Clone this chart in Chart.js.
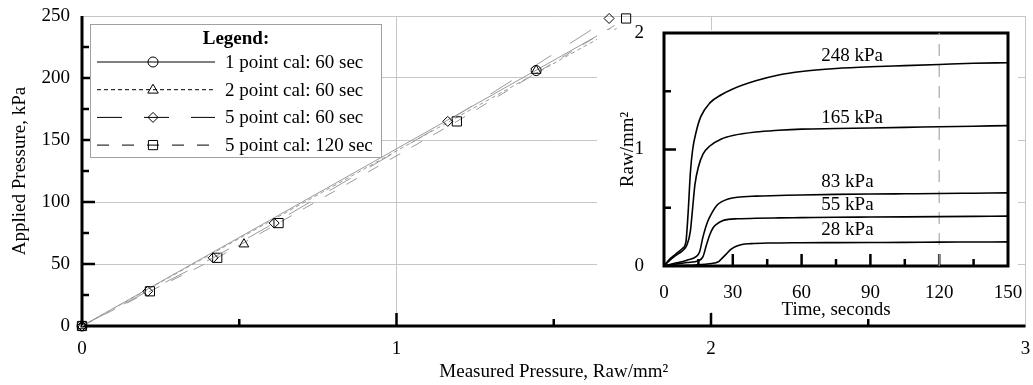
<!DOCTYPE html>
<html>
<head>
<meta charset="utf-8">
<script src="https://cdn.jsdelivr.net/npm/chart.js@4.4.0/dist/chart.umd.min.js"></script>
<style>
  html, body { margin: 0; padding: 0; background: #fff; }
  #wrap { position: relative; width: 1033px; height: 385px; overflow: hidden; }
  #mainChart { position: absolute; left: 0; top: 0; }
  #insetChart { position: absolute; left: 597px; top: 22px; }
</style>
</head>
<body>
<div id="wrap">
  <canvas id="mainChart" width="1033" height="385" style="width:1033px;height:385px"></canvas>
  <canvas id="insetChart" width="430" height="300" style="width:430px;height:300px"></canvas>
</div>
<script>
// Calibration check figure: applied vs measured pressure, with raw response inset

// --- main plot data (measured Raw/mm2, applied kPa) ---
const onePtX = [0, 1.444];
const onePtY = [0, 206];
const twoPtX = [0, 0.515, 1.444];
const twoPtY = [0, 66, 206];
const fivePt60X = [0, 0.209, 0.417, 0.611, 1.163, 1.676];
const fivePt60Y = [0, 28, 55, 83, 165, 248];
const fivePt120X = [0, 0.216, 0.43, 0.625, 1.192, 1.730];
const fivePt120Y = [0, 28, 55, 83, 165, 248];

// calibration lines for the 1 and 2 point cases
const onePtLineX = [0, 1.68];
const onePtLineY = [0, 240];
const twoPtLineX = [0, 1.70];
const twoPtLineY = [0, 240];

// main axis ticks
const mainYMajor = [50, 100, 150, 200];
const mainYMinor = [25, 75, 125, 175, 225];
const mainXMajor = [1, 2];
const mainXMinor = [0.5, 1.5, 2.5];

const legendLabels = ['1 point cal: 60 sec', '2 point cal: 60 sec', '5 point cal: 60 sec', '5 point cal: 120 sec'];

// --- inset data (time s, Raw/mm2) ---
const t248 = [0, 2, 5, 8, 9.5, 10.5, 11.5, 12.5, 14, 16, 20, 25, 30, 40, 50, 60, 75, 90, 105, 120, 135, 150];
const v248 = [0, 0.05, 0.1, 0.15, 0.2, 0.45, 0.8, 1.0, 1.15, 1.28, 1.4, 1.47, 1.52, 1.59, 1.64, 1.67, 1.695, 1.71, 1.72, 1.73, 1.74, 1.745];
const t165 = [0, 2, 5, 8, 10, 11.5, 12.5, 13.5, 15, 17, 20, 25, 30, 40, 50, 60, 75, 90, 105, 120, 135, 150];
const v165 = [0, 0.04, 0.09, 0.13, 0.18, 0.3, 0.5, 0.7, 0.85, 0.96, 1.03, 1.09, 1.12, 1.15, 1.165, 1.175, 1.18, 1.185, 1.19, 1.195, 1.2, 1.205];
const t83 = [0, 5, 10, 14, 15.5, 17, 19, 21, 23, 25, 28, 32, 40, 50, 60, 75, 90, 105, 120, 135, 150];
const v83 = [0, 0.025, 0.05, 0.08, 0.12, 0.25, 0.38, 0.46, 0.52, 0.55, 0.575, 0.59, 0.6, 0.605, 0.61, 0.615, 0.618, 0.62, 0.622, 0.625, 0.628];
const t55 = [0, 5, 10, 15, 17, 18.5, 20, 21.5, 23, 25, 28, 32, 40, 50, 60, 75, 90, 105, 120, 135, 150];
const v55 = [0, 0.015, 0.03, 0.045, 0.08, 0.18, 0.27, 0.33, 0.36, 0.385, 0.4, 0.405, 0.41, 0.413, 0.415, 0.418, 0.42, 0.422, 0.424, 0.426, 0.428];
const t28 = [0, 10, 18, 22, 24, 25.5, 27, 29, 31, 34, 38, 45, 60, 75, 90, 105, 120, 135, 150];
const v28 = [0, 0.005, 0.015, 0.025, 0.04, 0.07, 0.1, 0.14, 0.165, 0.185, 0.192, 0.197, 0.2, 0.201, 0.202, 0.203, 0.205, 0.206, 0.207];

const markTime = 120;
const curveLabels = ['248 kPa', '165 kPa', '83 kPa', '55 kPa', '28 kPa'];
const curveLabelTime = [82, 82, 80, 80, 80];
const curveLabelRaw = [1.80, 1.27, 0.72, 0.52, 0.31];

const insetXMajor = [30, 60, 90, 120];
const insetXMinor = [15, 45, 75, 105, 135];
const insetYMajor = [1];
const insetYMinor = [0.5, 1.5];

const FONT = '"Liberation Serif", "Times New Roman", serif';
Chart.defaults.font.family = FONT;
Chart.defaults.font.size = 19;
Chart.defaults.color = '#000';

const lineGray = '#9a9a9a';

function toPoints(xs, ys) {
    return xs.map((x, i) => ({ x: x, y: ys[i] }));
}

function drawMarker(ctx, style, x, y, r) {
    ctx.beginPath();
    if (style === 'circle') {
        ctx.arc(x, y, r, 0, Math.PI * 2);
    } else if (style === 'triangle') {
        ctx.moveTo(x, y - r);
        ctx.lineTo(x + r * 0.95, y + r * 0.62);
        ctx.lineTo(x - r * 0.95, y + r * 0.62);
        ctx.closePath();
    } else if (style === 'rectRot') {
        ctx.moveTo(x, y - r);
        ctx.lineTo(x + r, y);
        ctx.lineTo(x, y + r);
        ctx.lineTo(x - r, y);
        ctx.closePath();
    } else {
        const h = r * Math.SQRT1_2;
        ctx.rect(x - h, y - h, 2 * h, 2 * h);
    }
    ctx.stroke();
}

// series styles (shared by plot and legend)
const seriesStyle = [
    { marker: 'circle', radius: 5, dash: [] },
    { marker: 'triangle', radius: 5.5, dash: [4, 3] },
    { marker: 'rectRot', radius: 5, dash: [25, 22] },
    { marker: 'rect', radius: 6.5, dash: [12, 13] }
];

function lineSet(xs, ys, dash) {
    return {
        data: toPoints(xs, ys),
        showLine: true,
        borderColor: lineGray,
        borderWidth: 1,
        borderDash: dash,
        pointRadius: 0
    };
}

function markerSet(xs, ys, idx, withLine) {
    const s = seriesStyle[idx];
    return {
        data: toPoints(xs, ys),
        showLine: withLine,
        borderColor: lineGray,
        borderWidth: 1,
        borderDash: s.dash,
        pointStyle: s.marker,
        pointRadius: s.radius,
        pointBorderColor: '#000',
        pointBorderWidth: 1,
        pointBackgroundColor: 'rgba(0,0,0,0)',
        clip: false
    };
}

// axis lines and inward tick marks
const frameTicks = {
    id: 'frameTicks',
    beforeDatasetsDraw(chart, args, o) {
        const { ctx, chartArea: a, scales: { x, y } } = chart;
        ctx.save();
        ctx.strokeStyle = '#000';
        ctx.lineWidth = o.tickWidth;
        ctx.beginPath();
        o.yMajor.forEach(v => { const p = y.getPixelForValue(v); ctx.moveTo(a.left, p); ctx.lineTo(a.left + o.major, p); });
        o.yMinor.forEach(v => { const p = y.getPixelForValue(v); ctx.moveTo(a.left, p); ctx.lineTo(a.left + o.minor, p); });
        o.xMajor.forEach(v => { const p = x.getPixelForValue(v); ctx.moveTo(p, a.bottom); ctx.lineTo(p, a.bottom - o.major); });
        o.xMinor.forEach(v => { const p = x.getPixelForValue(v); ctx.moveTo(p, a.bottom); ctx.lineTo(p, a.bottom - o.minor); });
        ctx.stroke();
        ctx.lineWidth = o.frameWidth;
        ctx.beginPath();
        if (o.box) {
            ctx.rect(a.left, a.top, a.right - a.left, a.bottom - a.top);
        } else {
            ctx.moveTo(a.left, a.top);
            ctx.lineTo(a.left, a.bottom);
            ctx.lineTo(a.right, a.bottom);
        }
        ctx.stroke();
        ctx.restore();
    }
};

// boxed legend in the upper left
const calLegend = {
    id: 'calLegend',
    afterDraw(chart) {
        const ctx = chart.ctx;
        ctx.save();
        ctx.fillStyle = '#fff';
        ctx.fillRect(90, 24, 291, 133);
        ctx.strokeStyle = '#a0a0a0';
        ctx.lineWidth = 1;
        ctx.strokeRect(90.5, 24.5, 291, 133);
        ctx.fillStyle = '#000';
        ctx.textBaseline = 'middle';
        ctx.textAlign = 'center';
        ctx.font = 'bold 19px ' + FONT;
        ctx.fillText('Legend:', 236, 39);
        ctx.font = '19px ' + FONT;
        ctx.textAlign = 'left';
        legendLabels.forEach((label, i) => {
            const s = seriesStyle[i];
            const yy = 62 + i * 27.7;
            ctx.strokeStyle = '#000';
            ctx.lineWidth = 1;
            ctx.setLineDash(s.dash);
            ctx.beginPath();
            ctx.moveTo(97, yy);
            ctx.lineTo(215, yy);
            ctx.stroke();
            ctx.setLineDash([]);
            drawMarker(ctx, s.marker, 153, yy, s.radius);
            ctx.fillText(label, 225, yy + 1);
        });
        ctx.restore();
    }
};

const mainChart = new Chart(document.getElementById('mainChart'), {
    type: 'scatter',
    data: {
        datasets: [
            markerSet(onePtX, onePtY, 0, false),
            markerSet(twoPtX, twoPtY, 1, false),
            markerSet(fivePt60X, fivePt60Y, 2, true),
            markerSet(fivePt120X, fivePt120Y, 3, true),
            lineSet(onePtLineX, onePtLineY, seriesStyle[0].dash),
            lineSet(twoPtLineX, twoPtLineY, seriesStyle[1].dash)
        ]
    },
    options: {
        responsive: false,
        animation: false,
        layout: { padding: { top: 16, right: 1, left: 0, bottom: 0 } },
        plugins: {
            legend: { display: false },
            tooltip: { enabled: false },
            frameTicks: {
                yMajor: mainYMajor, yMinor: mainYMinor,
                xMajor: mainXMajor, xMinor: mainXMinor,
                major: 13, minor: 7, tickWidth: 2.5, frameWidth: 3, box: false
            }
        },
        scales: {
            x: {
                type: 'linear', min: 0, max: 3,
                ticks: { stepSize: 1, padding: 12 },
                grid: { color: '#c6c6c6', drawTicks: false },
                border: { display: false },
                title: { display: true, text: 'Measured Pressure, Raw/mm²', padding: { top: 0, bottom: 2 } },
                afterFit(s) { s.height = 59; s.paddingLeft = 0; s.paddingRight = 0; }
            },
            y: {
                type: 'linear', min: 0, max: 250,
                ticks: { stepSize: 50, padding: 12 },
                grid: { color: '#c6c6c6', drawTicks: false },
                border: { display: false },
                title: { display: true, text: 'Applied Pressure, kPa', padding: { top: 9, bottom: 0 } },
                afterFit(s) { s.width = 82; s.paddingTop = 0; s.paddingBottom = 0; }
            }
        }
    },
    plugins: [frameTicks, calLegend]
});

// white panel behind the inset
const insetPanel = {
    id: 'insetPanel',
    beforeDraw(chart) {
        const ctx = chart.ctx;
        ctx.save();
        ctx.fillStyle = '#fff';
        ctx.fillRect(0, 8, 421, 282);
        ctx.restore();
    }
};

const curveText = {
    id: 'curveText',
    afterDatasetsDraw(chart) {
        const { ctx, scales: { x, y } } = chart;
        ctx.save();
        ctx.fillStyle = '#000';
        ctx.font = '19px ' + FONT;
        ctx.textAlign = 'center';
        ctx.textBaseline = 'middle';
        curveLabels.forEach((txt, i) => {
            ctx.fillText(txt, x.getPixelForValue(curveLabelTime[i]), y.getPixelForValue(curveLabelRaw[i]));
        });
        ctx.restore();
    }
};

function curveSet(ts, vs) {
    return {
        data: toPoints(ts, vs),
        showLine: true,
        borderColor: '#000',
        borderWidth: 1.6,
        pointRadius: 0,
        cubicInterpolationMode: 'monotone'
    };
}

const insetChart = new Chart(document.getElementById('insetChart'), {
    type: 'scatter',
    data: {
        datasets: [
            curveSet(t248, v248),
            curveSet(t165, v165),
            curveSet(t83, v83),
            curveSet(t55, v55),
            curveSet(t28, v28),
            {
                data: toPoints([markTime, markTime], [0, 2]),
                showLine: true,
                borderColor: '#a8a8a8',
                borderWidth: 1.2,
                borderDash: [12, 9],
                pointRadius: 0
            }
        ]
    },
    options: {
        responsive: false,
        animation: false,
        layout: { padding: { top: 11, right: 19, left: 0, bottom: 0 } },
        plugins: {
            legend: { display: false },
            tooltip: { enabled: false },
            frameTicks: {
                yMajor: insetYMajor, yMinor: insetYMinor,
                xMajor: insetXMajor, xMinor: insetXMinor,
                major: 12, minor: 7, tickWidth: 2.5, frameWidth: 3, box: true
            }
        },
        scales: {
            x: {
                type: 'linear', min: 0, max: 150,
                ticks: { stepSize: 30, padding: 8 },
                grid: { display: false },
                border: { display: false },
                title: { display: true, text: 'Time, seconds', padding: { top: 0, bottom: 1 } },
                afterFit(s) { s.height = 56; s.paddingLeft = 0; s.paddingRight = 0; }
            },
            y: {
                type: 'linear', min: 0, max: 2,
                ticks: { stepSize: 1, padding: 12 },
                grid: { display: false },
                border: { display: false },
                title: { display: true, text: 'Raw/mm²', padding: { top: 20, bottom: 0 } },
                afterFit(s) { s.width = 67; s.paddingTop = 0; s.paddingBottom = 0; }
            }
        }
    },
    plugins: [insetPanel, frameTicks, curveText]
});
</script>
</body>
</html>
